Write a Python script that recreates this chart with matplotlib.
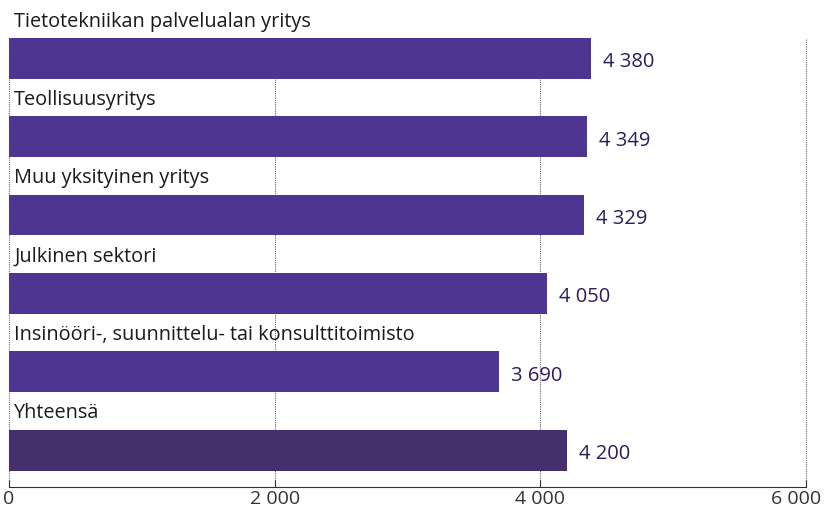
import matplotlib
matplotlib.use('Agg')
import matplotlib.pyplot as plt
from matplotlib.transforms import ScaledTranslation

# data
categories = ['Tietotekniikan palvelualan yritys', 'Teollisuusyritys',
              'Muu yksityinen yritys', 'Julkinen sektori',
              'Insinööri-, suunnittelu- tai konsulttitoimisto', 'Yhteensä']
values = [4380, 4349, 4329, 4050, 3690, 4200]
xticks = [0, 2000, 4000, 6000]

colors = ['#4f3592'] * 5 + ['#45306d']

def fmt(v):
    return '{:,}'.format(v).replace(',', ' ')

plt.rcParams['font.family'] = ['Open Sans', 'DejaVu Sans']

fig = plt.figure(figsize=(8.25, 5.09), dpi=100)
ax = fig.add_axes([9/825, 22/509, 797/825, 449/509])

ypos = list(range(len(categories)))
ax.barh(ypos, values, height=0.52, color=colors, zorder=2)

for y, v, c in zip(ypos, values, categories):
    ax.text(v + 90, y + 0.05, fmt(v), va='center', ha='left',
            fontsize=14.5, color='#2d1b5e')
    ax.text(40, y - 0.47, c, va='center', ha='left', fontsize=14.3,
            color='#1a1a1a', clip_on=False)

ax.set_xlim(0, 6000)
ax.set_ylim(5.47, -0.26)
ax.set_xticks(xticks)
ax.set_xticklabels([fmt(t) for t in xticks], fontsize=14, color='#333333')
ax.set_yticks([])
for t in xticks:
    ax.axvline(t, linestyle=(0, (1, 1)), color='#666666', linewidth=0.8,
               zorder=0, clip_on=False)
for s in ['top', 'right', 'left']:
    ax.spines[s].set_visible(False)
ax.spines['bottom'].set_color('#333333')
ax.tick_params(axis='x', direction='in', length=5, width=0.8, color='#333333', pad=2)

lab = ax.get_xticklabels()[-1]
lab.set_transform(lab.get_transform() + ScaledTranslation(-10/100, 0, fig.dpi_scale_trans))

fig.savefig('out.png', dpi=100)
